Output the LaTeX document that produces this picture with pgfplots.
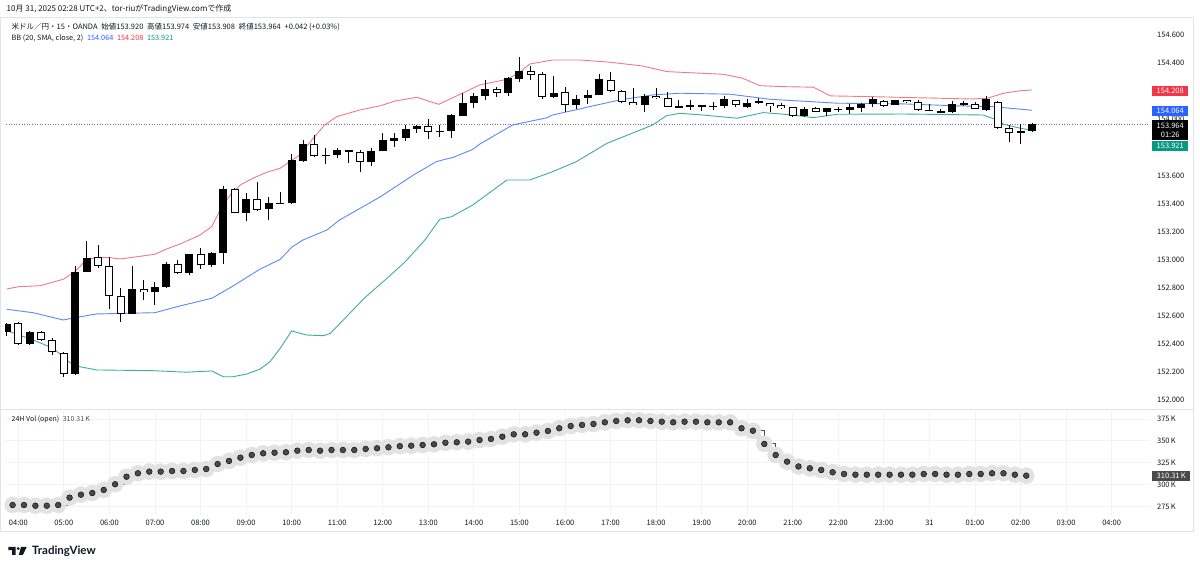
\documentclass[border=0pt]{standalone}
\usepackage{fontspec}
\setmainfont{Noto Sans CJK JP}
\newfontfamily\logofont{Lato}
\usepackage{pgfplots}
\pgfplotsset{compat=1.18}
\usepackage{pgfplotstable}
\usepgfplotslibrary{fillbetween}

\definecolor{txt}{HTML}{131722}
\definecolor{gridc}{HTML}{F0F3FA}
\definecolor{bordc}{HTML}{E0E3EB}
\definecolor{bbup}{HTML}{F47A84}
\definecolor{bbmid}{HTML}{5A8AF5}
\definecolor{bblow}{HTML}{3DAE98}
\definecolor{tvred}{HTML}{F23645}
\definecolor{tvblue}{HTML}{2962FF}
\definecolor{tvteal}{HTML}{089981}
\definecolor{volline}{HTML}{4A4A4A}
\definecolor{volhalo}{HTML}{E2E2E2}
\definecolor{lastline}{HTML}{787B86}

% 15-minute candles, i = 0 is 04:00
\pgfplotstableread{
i O H L C
-1 152.487 152.550 152.460 152.542
0 152.547 152.556 152.394 152.399
1 152.399 152.490 152.395 152.487
2 152.487 152.490 152.420 152.426
3 152.426 152.440 152.321 152.340
4 152.333 152.344 152.166 152.185
5 152.185 152.957 152.180 152.914
6 152.914 153.135 152.910 153.010
7 153.017 153.104 152.938 152.957
8 152.953 153.017 152.648 152.743
9 152.743 152.796 152.558 152.611
10 152.611 152.957 152.610 152.791
11 152.791 152.855 152.713 152.767
12 152.767 152.839 152.677 152.803
13 152.803 152.981 152.796 152.967
14 152.967 152.997 152.898 152.905
15 152.905 153.040 152.895 153.038
16 153.038 153.085 152.933 152.962
17 152.962 153.055 152.950 153.047
18 153.049 153.525 152.969 153.503
19 153.503 153.515 153.330 153.334
20 153.334 153.472 153.277 153.432
21 153.432 153.551 153.349 153.354
22 153.359 153.448 153.282 153.406
23 153.406 153.480 153.400 153.400
24 153.401 153.750 153.400 153.710
25 153.705 153.852 153.698 153.824
26 153.824 153.888 153.733 153.740
27 153.745 153.793 153.686 153.745
28 153.745 153.797 153.722 153.781
29 153.781 153.782 153.686 153.767
30 153.765 153.781 153.622 153.698
31 153.698 153.793 153.669 153.776
32 153.776 153.900 153.770 153.852
33 153.847 153.900 153.800 153.869
34 153.864 153.959 153.847 153.930
35 153.930 153.959 153.900 153.952
36 153.954 154.000 153.864 153.907
37 153.916 153.959 153.871 153.916
38 153.916 154.042 153.871 154.030
39 154.025 154.185 154.020 154.114
40 154.114 154.185 154.078 154.168
41 154.168 154.279 154.137 154.215
42 154.213 154.232 154.161 154.185
43 154.185 154.303 154.168 154.292
44 154.287 154.445 154.263 154.344
45 154.344 154.379 154.279 154.315
46 154.320 154.339 154.144 154.156
47 154.156 154.308 154.150 154.189
48 154.196 154.232 154.054 154.101
49 154.101 154.173 154.073 154.144
50 154.149 154.208 154.109 154.173
51 154.173 154.322 154.170 154.284
52 154.279 154.339 154.196 154.201
53 154.201 154.205 154.115 154.121
54 154.121 154.220 154.100 154.101
55 154.101 154.180 154.049 154.168
56 154.168 154.220 154.144 154.149
57 154.149 154.196 154.085 154.089
58 154.089 154.137 154.088 154.092
59 154.096 154.137 154.066 154.096
60 154.096 154.100 154.059 154.096
61 154.094 154.125 154.066 154.094
62 154.096 154.168 154.078 154.142
63 154.137 154.140 154.085 154.101
64 154.089 154.144 154.078 154.118
65 154.125 154.149 154.106 154.125
66 154.114 154.115 154.054 154.094
67 154.101 154.114 154.075 154.078
68 154.085 154.090 154.020 154.025
69 154.025 154.085 154.020 154.073
70 154.078 154.089 154.050 154.054
71 154.049 154.080 154.025 154.078
72 154.071 154.085 154.050 154.071
73 154.066 154.106 154.037 154.089
74 154.082 154.115 154.054 154.109
75 154.106 154.161 154.089 154.144
76 154.132 154.140 154.090 154.096
77 154.101 154.140 154.100 154.137
78 154.137 154.140 154.114 154.121
79 154.121 154.137 154.060 154.066
80 154.066 154.106 154.060 154.066
81 154.054 154.071 154.042 154.054
82 154.049 154.130 154.045 154.106
83 154.112 154.130 154.095 154.112
84 154.106 154.125 154.070 154.071
85 154.066 154.168 154.060 154.142
86 154.125 154.130 153.930 153.935
87 153.935 153.959 153.840 153.900
88 153.905 153.966 153.824 153.920
89 153.920 153.974 153.908 153.964
}\candles

% Bollinger band (20, SMA, close, 2)
\pgfplotstableread{
i p
-1 152.791
0 152.807
1.9 152.814
3.95 152.860
4.98 152.914
6.0 153.002
6.88 153.014
8.05 153.014
8.93 153.005
10.1 153.017
12.0 153.038
13.03 153.076
14.2 153.111
15.95 153.175
16.98 153.235
17.7 153.349
18.6 153.460
19.5 153.532
20.6 153.579
21.8 153.622
23.0 153.651
24.7 153.745
25.9 153.864
26.9 153.959
27.95 154.018
30.0 154.066
31.8 154.096
33.1 154.130
35.0 154.156
36.9 154.106
39.0 154.185
40.5 154.244
42.9 154.284
43.9 154.327
44.9 154.393
46.9 154.422
49.3 154.422
51.95 154.406
54.8 154.379
56.95 154.339
61.9 154.320
63.6 154.292
65.1 154.239
67.1 154.232
69.8 154.228
71.3 154.166
74.8 154.161
78.9 154.153
83.6 154.144
85.1 154.149
86.5 154.185
88.0 154.203
89.0 154.208
}\bbupper

\pgfplotstableread{
i p
-1 152.646
1.29 152.622
3.95 152.570
5.13 152.589
6.88 152.613
9.8 152.618
12.0 152.622
14.2 152.670
17.0 152.725
18.85 152.812
21.2 152.931
23.0 153.002
24.0 153.088
25.0 153.140
27.1 153.211
28.2 153.282
29.1 153.323
31.8 153.448
34.7 153.603
36.7 153.698
38.2 153.729
39.9 153.785
40.5 153.822
43.4 153.959
46.4 154.010
46.9 154.030
49.3 154.073
49.9 154.085
52.8 154.137
55.7 154.173
58.1 154.185
62.5 154.178
66.0 154.142
71.9 154.114
77.7 154.109
82.1 154.096
85.6 154.089
89.0 154.064
}\bbbasis

\pgfplotstableread{
i p
-1 152.494
1.29 152.428
3.05 152.369
4.54 152.266
5.42 152.237
6.88 152.214
11.8 152.209
14.8 152.198
17.0 152.207
18.0 152.166
18.85 152.166
20.05 152.185
21.2 152.219
22.1 152.273
23.0 152.369
24.0 152.492
25.3 152.463
26.8 152.458
27.4 152.475
28.7 152.584
30.4 152.727
32.2 152.855
33.95 152.983
35.7 153.140
37.0 153.287
38.05 153.306
39.9 153.389
42.9 153.567
44.9 153.567
46.9 153.626
49.0 153.698
51.7 153.829
54.6 153.923
55.7 153.959
56.9 154.025
58.1 154.042
60.1 154.030
63.1 154.007
65.4 154.047
68.0 154.030
69.8 154.011
71.9 154.035
77.7 154.037
84.7 154.030
85.9 153.995
86.5 153.964
88.0 153.935
89.0 153.921
}\bblower

% 24H volume (open), in thousands
\pgfplotstableread{
k v
0 276.8
1 276.8
2 276.0
3 276.0
4 276.8
5 285.2
6 288.6
7 290.5
8 294.0
9 300.5
10 309.1
11 313.0
12 314.9
13 314.9
14 315.6
15 315.6
16 316.8
17 317.9
18 323.6
19 327.1
20 330.8
21 333.9
22 335.8
23 336.5
24 337.0
25 338.8
26 339.6
27 338.8
28 339.6
29 339.6
30 339.6
31 340.8
32 341.6
33 342.7
34 344.0
35 344.5
36 345.3
37 346.1
38 347.9
39 348.4
40 349.1
41 351.0
42 352.2
43 354.8
44 357.5
45 357.5
46 359.4
47 361.3
48 364.4
49 367.0
50 368.2
51 369.3
52 371.2
53 372.7
54 373.5
55 373.5
56 372.7
57 371.9
58 371.2
59 371.9
60 371.9
61 371.2
62 371.2
63 371.2
64 364.4
65 361.6
66 346.5
67 333.9
68 326.3
69 320.8
70 318.7
71 316.8
72 314.2
73 312.2
74 311.4
75 311.4
76 311.4
77 311.4
78 311.4
79 311.4
80 312.2
81 312.2
82 311.4
83 311.4
84 312.2
85 312.2
86 313.0
87 313.0
88 311.4
89 310.31
}\vol

\begin{document}
\begin{tikzpicture}[x=1pt,y=1pt]
\fill[white] (0,0) rectangle (1200,572);

% pane frame
\draw[bordc, line width=0.8pt] (0.5,554.5) rectangle (1193.5,40.5);
\draw[bordc, line width=0.8pt] (0.5,162.5) -- (1193.5,162.5);

\pgfplotsset{
  tvpane/.style={
    scale only axis, width=1145pt,
    xmin=-1.168, xmax=99.36,
    axis line style={draw=none}, major tick length=0pt,
    grid=major, grid style={gridc, line width=0.8pt},
    xtick={0,4,...,96},
    yticklabel pos=right,
    yticklabel style={anchor=west, inner sep=0pt, xshift=7pt,
      font=\fontsize{7.5}{9}\selectfont, text=txt},
  },
  candlebar/.style={only marks, mark=*, mark size=0pt,
    mark options={draw=none, fill=none}, forget plot},
}

% price pane
\begin{axis}[tvpane, at={(5pt,163pt)}, anchor=south west, height=392pt,
  ymin=151.936, ymax=154.728,
  xticklabels={},
  ytick={152,152.2,152.4,152.6,152.8,153,153.2,153.4,153.6,153.8,154,154.2,154.4,154.6},
  yticklabels={152.000,152.200,152.400,152.600,152.800,153.000,153.200,153.400,153.600,153.800,154.000,154.200,154.400,154.600},
]
\addplot[draw=none, name path=bbu, forget plot] table[x=i, y=p] \bbupper;
\addplot[draw=none, name path=bbl, forget plot] table[x=i, y=p] \bblower;
\addplot[fill=tvblue, fill opacity=0.045, draw=none] fill between[of=bbu and bbl];
\addplot[bbup, line width=0.9pt] table[x=i, y=p] \bbupper;
\addplot[bbmid, line width=0.9pt] table[x=i, y=p] \bbbasis;
\addplot[bblow, line width=0.9pt] table[x=i, y=p] \bblower;

% last price line
\addplot[lastline, line width=0.8pt, dash pattern=on 1pt off 1.6pt] coordinates {(-2,153.964) (100,153.964)};

% wicks
\addplot[candlebar,
  error bars/.cd, y dir=both, y explicit, error mark=none,
  error bar style={line width=1pt, black}]
  table[x=i, y expr={(\thisrow{H}+\thisrow{L})/2},
        y error expr={(\thisrow{H}-\thisrow{L})/2}] \candles;
% bodies
\addplot[candlebar,
  error bars/.cd, y dir=both, y explicit, error mark=none,
  error bar style={line width=8pt, black}]
  table[x=i, y expr={(\thisrow{O}+\thisrow{C})/2},
        y error expr={max(abs(\thisrow{O}-\thisrow{C})/2,0.0036)}] \candles;
% hollow falling candles
\addplot[candlebar,
  error bars/.cd, y dir=both, y explicit, error mark=none,
  error bar style={line width=6pt, white}]
  table[x=i, y expr={(\thisrow{O}+\thisrow{C})/2},
        y error expr={ifthenelse(\thisrow{C}<\thisrow{O}, max(abs(\thisrow{O}-\thisrow{C})/2-0.0071,0), 0)}] \candles;
\end{axis}

% volume pane
\begin{axis}[tvpane, at={(5pt,57pt)}, anchor=south west, height=106pt,
  ymin=265.4, ymax=386.4,
  ytick={275,300,325,350,375},
  yticklabels={275\,K,300\,K,325\,K,350\,K,375\,K},
  xticklabels={04:00,05:00,06:00,07:00,08:00,09:00,10:00,11:00,12:00,13:00,14:00,15:00,16:00,17:00,18:00,19:00,20:00,21:00,22:00,23:00,31,01:00,02:00,03:00,04:00},
  xticklabel style={anchor=center, yshift=-8pt, font=\fontsize{7.5}{9}\selectfont, text=txt},
]
\addplot[volhalo, line width=6.5pt, line join=round, mark=*, mark size=5.2pt,
  mark options={fill=volhalo, draw=none}]
  table[x expr={\thisrow{k}-0.5}, y=v] \vol;
\addplot[volline, line width=0.9pt, const plot mark left, mark=none]
  table[x expr={\thisrow{k}-0.5}, y=v] \vol;
\addplot[only marks, mark=*, mark size=2.9pt, mark options={fill=volline, draw=none}]
  table[x expr={\thisrow{k}-0.5}, y=v] \vol;
\end{axis}

% header texts
\node[anchor=west, inner sep=0pt, text=txt, font=\fontsize{8}{9}\selectfont]
  at (6.5,562.7) {10月 31, 2025 02:28 UTC+2、tor-riuがTradingView.comで作成};
\node[anchor=west, inner sep=0pt, text=txt, font=\fontsize{7.5}{9}\selectfont]
  at (11.5,545.3) {米ドル／円・15・OANDA\enspace 始値153.920\enspace 高値153.974\enspace 安値153.908\enspace 終値153.964\enspace +0.042 (+0.03\%)};
\node[anchor=west, inner sep=0pt, text=txt, font=\fontsize{7.3}{9}\selectfont]
  at (11.5,534.1) {BB (20, SMA, close, 2)\enspace\textcolor{tvblue}{154.064}\enspace\textcolor{tvred}{154.208}\enspace\textcolor{tvteal}{153.921}};
\node[anchor=west, inner sep=0pt, text=txt, font=\fontsize{7}{8}\selectfont]
  at (11.5,152.7) {24H Vol (open)\enspace\textcolor{txt!75}{310.31\,K}};

% price scale labels
\node[anchor=west, fill=tvred, text=white, inner sep=0pt, minimum width=36pt, minimum height=10pt,
  font=\fontsize{7.5}{9}\selectfont] at (1152,481) {154.208};
\node[anchor=west, fill=tvblue, text=white, inner sep=0pt, minimum width=36pt, minimum height=10pt,
  font=\fontsize{7.5}{9}\selectfont] at (1152,461) {154.064};
\node[anchor=west, fill=black, text=white, inner sep=0pt, minimum width=36pt, minimum height=20pt,
  font=\fontsize{7.5}{9}\selectfont, align=center] at (1152,441.7) {153.964\\01:26};
\node[anchor=west, fill=tvteal, text=white, inner sep=0pt, minimum width=36pt, minimum height=10pt,
  font=\fontsize{7.5}{9}\selectfont] at (1152,426.3) {153.921};
\node[anchor=west, fill=volline, text=white, inner sep=0pt, minimum width=38pt, minimum height=10pt,
  font=\fontsize{7.5}{9}\selectfont] at (1152,96) {310.31\,K};

% logo
\fill[txt] (8.3,25) -- (15.5,25) -- (15.5,17) -- (12,17) -- (12,21.8) -- (8.3,21.8) -- cycle;
\fill[txt] (18.2,23.4) circle (1.6pt);
\fill[txt] (21,25) -- (26.7,25) -- (22.8,17) -- (18.8,17) -- cycle;
\node[anchor=west, inner sep=0pt, text=txt, font=\logofont\bfseries\fontsize{11.5}{13}\selectfont]
  at (32,20.8) {TradingView};
\end{tikzpicture}
\end{document}
